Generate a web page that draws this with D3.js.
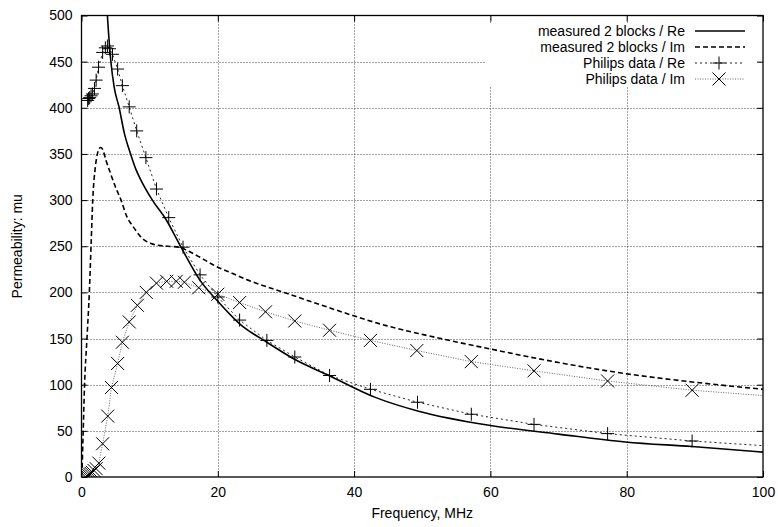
<!DOCTYPE html>
<html><head><meta charset="utf-8">
<script src="https://cdn.jsdelivr.net/npm/d3@7"></script>
<style>
html,body{margin:0;padding:0;background:#fff;}
svg text{font-family:"Liberation Sans",Arial,Helvetica,sans-serif;font-size:14px;fill:#000;}
</style></head>
<body><svg id="chart" width="778" height="527"></svg>
<script>
// ---- data ----
const xTicks = [0, 20, 40, 60, 80, 100];
const yTicks = [0, 50, 100, 150, 200, 250, 300, 350, 400, 450, 500];
const seriesNames = ["measured 2 blocks / Re", "measured 2 blocks / Im", "Philips data / Re", "Philips data / Im"];

// measured 2 blocks / Re  (frequency MHz, mu)
const measRe_f  = [3.6, 3.85, 4.3, 4.8, 5.5, 6.3, 7.2, 8.0, 8.7, 10.4, 12.4, 14.6, 17.4, 19.8, 23.2, 27.2, 31.4, 36.3, 43.2, 49.6, 59.8, 70.0, 79.8, 89.6, 100];
const measRe_mu = [525, 494, 451, 422, 401, 372, 350, 333, 322, 300, 279, 249, 213, 192, 166, 146, 127, 110, 86, 71, 56, 46.5, 38, 33, 27];

// measured 2 blocks / Im
const measIm_f  = [0.1, 0.25, 0.45, 0.8, 1.15, 1.4, 1.65, 2.05, 2.4, 2.8, 3.1, 3.6, 4.3, 5.0, 5.8, 6.6, 7.6, 9.0, 10.2, 11.2, 12.6, 14.4, 15.6, 17.4, 19.8, 21.7, 24.2, 30.1, 34.9, 39.8, 44.7, 50.3, 59.8, 70.0, 79.8, 89.6, 100];
const measIm_mu = [10, 50, 100, 150, 200, 250, 300, 337, 352, 357, 355, 343, 328, 314, 300, 283, 271, 258, 253, 251, 250, 249, 245, 238, 228, 222, 214, 199, 187, 175, 164, 154, 139, 124, 112, 103, 95];

// Philips data / Re
const phRe_f  = [0.9, 1.05, 1.2, 1.4, 1.6, 1.9, 2.15, 2.5, 3.1, 3.5, 3.8, 4.1, 4.55, 5.3, 6.0, 7.0, 8.1, 9.45, 11.0, 12.8, 14.9, 17.4, 20.0, 23.2, 27.2, 31.3, 36.4, 42.4, 49.3, 57.2, 66.4, 77.2, 89.6, 104];
const phRe_mu = [408, 410, 411, 413, 415, 421, 430, 444, 460, 465, 467, 464, 458, 442, 424, 401, 375, 346, 312, 281, 249, 219, 195, 170, 148, 130, 110, 95, 81, 68, 57, 47, 39, 32];

// Philips data / Im
const phIm_f  = [0.6, 0.8, 1.0, 1.2, 1.4, 1.6, 1.85, 2.15, 2.55, 3.1, 3.85, 4.4, 5.3, 6.0, 7.0, 8.2, 9.5, 11.0, 12.5, 13.9, 15.1, 17.2, 20.0, 23.2, 27.0, 31.3, 36.4, 42.4, 49.2, 57.2, 66.4, 77.2, 89.6, 104];
const phIm_mu = [0, 1, 2, 3, 4, 5, 7, 9, 15, 36, 66, 97, 123, 146, 168, 186, 200, 210, 212, 212, 211, 205, 198, 189, 179, 169, 159, 148, 137, 125, 115, 104, 94, 86];

// ---- layout ----
const svg = d3.select("#chart");
const L = 81.5, R = 763, T = 15.5, B = 477;
const x = d3.scaleLinear().domain([0, 100]).range([L, R]);
const y = d3.scaleLinear().domain([0, 500]).range([B, T]);

svg.append("rect").attr("width", 778).attr("height", 527).attr("fill", "#fff");
svg.append("clipPath").attr("id", "clip").append("rect")
  .attr("x", L).attr("y", T).attr("width", R - L).attr("height", B - T);

// grid
const grid = svg.append("g").attr("stroke", "#444").attr("stroke-width", 1).attr("stroke-dasharray", "1,2");
xTicks.filter(d => d > 0 && d < 100).forEach(d => {
  grid.append("line").attr("x1", Math.round(x(d)) + 0.5).attr("x2", Math.round(x(d)) + 0.5).attr("y1", T).attr("y2", B);
});
yTicks.filter(d => d > 0 && d < 500).forEach(d => {
  grid.append("line").attr("y1", Math.round(y(d)) + 0.5).attr("y2", Math.round(y(d)) + 0.5).attr("x1", L).attr("x2", R);
});

// opaque key background
svg.append("rect").attr("x", 486).attr("y", 23).attr("width", 272).attr("height", 64).attr("fill", "#fff");

// axes (ticks inward, mirrored)
const tl = 6;
const axB = svg.append("g").attr("transform", `translate(0,${B})`)
  .call(d3.axisBottom(x).tickValues(xTicks).tickSizeInner(-tl).tickSizeOuter(0).tickPadding(10));
const axT = svg.append("g").attr("transform", `translate(0,${T})`)
  .call(d3.axisTop(x).tickValues(xTicks).tickSizeInner(-tl).tickSizeOuter(0).tickFormat(""));
const axL = svg.append("g").attr("transform", `translate(${L},0)`)
  .call(d3.axisLeft(y).tickValues(yTicks).tickSizeInner(-tl).tickSizeOuter(0).tickPadding(9));
const axR = svg.append("g").attr("transform", `translate(${R},0)`)
  .call(d3.axisRight(y).tickValues(yTicks).tickSizeInner(-tl).tickSizeOuter(0).tickFormat(""));
[axB, axT, axL, axR].forEach(a => {
  a.select(".domain").remove();
  a.selectAll("line").attr("stroke", "#000");
  a.selectAll("text").attr("font-family", "Liberation Sans, Arial, sans-serif").attr("font-size", 14).attr("fill", "#000");
});
svg.append("rect").attr("x", L).attr("y", T).attr("width", R - L).attr("height", B - T)
  .attr("fill", "none").attr("stroke", "#000").attr("stroke-width", 1.3);

// axis titles
svg.append("text").attr("x", (L + R) / 2).attr("y", 518).attr("text-anchor", "middle").text("Frequency, MHz");
svg.append("text").attr("transform", `translate(22,${(T + B) / 2}) rotate(-90)`).attr("text-anchor", "middle").text("Permeability: mu");

// ---- data lines ----
const plot = svg.append("g").attr("clip-path", "url(#clip)");
const zip = (fs, ms) => fs.map((f, i) => [f, ms[i]]);
const smooth = d3.line().x(d => x(d[0])).y(d => y(d[1])).curve(d3.curveMonotoneX);
const straight = d3.line().x(d => x(d[0])).y(d => y(d[1]));

const measRe = zip(measRe_f, measRe_mu);
const measIm = zip(measIm_f, measIm_mu);
const phRe = zip(phRe_f, phRe_mu);
const phIm = zip(phIm_f, phIm_mu);

const styles = [
  {stroke: "#000", width: 1.6, dash: null},
  {stroke: "#000", width: 1.6, dash: "5,3"},
  {stroke: "#222", width: 1, dash: "2,3"},
  {stroke: "#666", width: 1, dash: "1,1.5"}
];

plot.append("path").datum(phIm).attr("d", straight).attr("fill", "none")
  .attr("stroke", styles[3].stroke).attr("stroke-width", styles[3].width).attr("stroke-dasharray", styles[3].dash);
plot.append("path").datum(phRe).attr("d", straight).attr("fill", "none")
  .attr("stroke", styles[2].stroke).attr("stroke-width", styles[2].width).attr("stroke-dasharray", styles[2].dash);
plot.append("path").datum(measIm).attr("d", smooth).attr("fill", "none")
  .attr("stroke", styles[1].stroke).attr("stroke-width", styles[1].width).attr("stroke-dasharray", styles[1].dash);
plot.append("path").datum(measRe).attr("d", smooth).attr("fill", "none")
  .attr("stroke", styles[0].stroke).attr("stroke-width", styles[0].width);

// markers
const plusPath = s => `M${-s},0H${s}M0,${-s}V${s}`;
const crossPath = s => `M${-s},${-s}L${s},${s}M${-s},${s}L${s},${-s}`;
plot.selectAll(".pre").data(phRe).enter().append("path")
  .attr("transform", d => `translate(${x(d[0])},${y(d[1])})`)
  .attr("d", plusPath(6.5)).attr("stroke", "#000").attr("stroke-width", 1).attr("fill", "none");
plot.selectAll(".pim").data(phIm).enter().append("path")
  .attr("transform", d => `translate(${x(d[0])},${y(d[1])})`)
  .attr("d", crossPath(6.5)).attr("stroke", "#000").attr("stroke-width", 1).attr("fill", "none");

// ---- legend ----
const rowsY = [31, 47, 63, 79];
const lg = svg.append("g");
seriesNames.forEach((name, i) => {
  const yy = rowsY[i];
  lg.append("text").attr("x", 685).attr("y", yy).attr("dy", "0.35em").attr("text-anchor", "end")
    .attr("font-size", 14).text(name);
  lg.append("line").attr("x1", 695).attr("x2", 745).attr("y1", yy).attr("y2", yy)
    .attr("stroke", styles[i].stroke).attr("stroke-width", styles[i].width)
    .attr("stroke-dasharray", styles[i].dash);
  if (i === 2) lg.append("path").attr("transform", `translate(719,${yy})`).attr("d", plusPath(6.5)).attr("stroke", "#000").attr("fill", "none");
  if (i === 3) lg.append("path").attr("transform", `translate(719,${yy})`).attr("d", crossPath(6.5)).attr("stroke", "#000").attr("fill", "none");
});
</script></body></html>
